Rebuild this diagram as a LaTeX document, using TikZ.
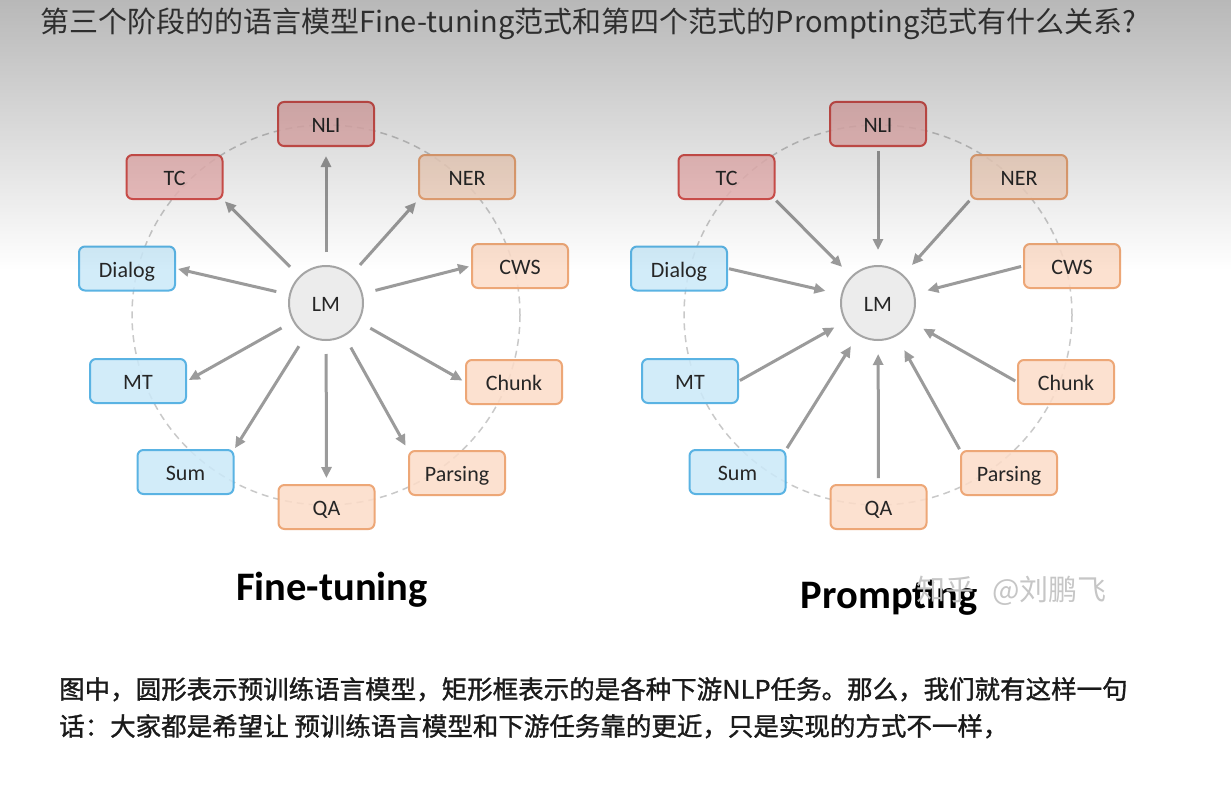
\documentclass[tikz,border=0pt]{standalone}
\usepackage{fontspec}
\setmainfont{Carlito}
\newfontfamily\cjk{Noto Sans CJK SC}
\newfontfamily\cjkb[FakeBold=1.2]{Noto Sans CJK SC}
\usetikzlibrary{arrows.meta,fadings}
\tikzfading[name=fadedown, top color=transparent!0, bottom color=transparent!100]
\definecolor{redfill}{HTML}{F5BDBD}
\definecolor{redline}{HTML}{D9534F}
\definecolor{peachfill}{HTML}{FCDCC8}
\definecolor{peachline}{HTML}{EDA777}
\definecolor{bluefill}{HTML}{CBE9F9}
\definecolor{blueline}{HTML}{5AB3E3}
\definecolor{lmfill}{HTML}{ECECEC}
\definecolor{lmline}{HTML}{A5A5A5}
\definecolor{arrowgray}{HTML}{9B9B9B}
\definecolor{dashgray}{HTML}{C9C9C9}
\definecolor{titlegray}{HTML}{2E2E2E}
\definecolor{bodytext}{HTML}{1A1A1A}
\definecolor{wmgray}{HTML}{C6C6C6}
\begin{document}
\begin{tikzpicture}[x=1pt,y=-1pt,
  task/.style={draw, line width=2pt, rounded corners=6pt, minimum width=96pt,
    minimum height=44pt, inner sep=0pt, text height=17.6pt, text depth=0pt,
    font=\fontsize{22}{22}\selectfont, text=black!85, fill opacity=0.85, text opacity=1},
  redbox/.style={task, fill=redfill, draw=redline},
  peachbox/.style={task, fill=peachfill, draw=peachline},
  bluebox/.style={task, fill=bluefill, draw=blueline},
  lmnode/.style={circle, minimum size=74pt, inner sep=0pt, draw=lmline, line width=2pt,
    fill=lmfill, text height=17.6pt, text depth=0pt, font=\fontsize{22}{22}\selectfont, text=black!85},
  arr/.style={draw=arrowgray, line width=3pt, -{Triangle[length=11pt,width=10pt]}},
  ring/.style={draw=dashgray, line width=1.5pt, dash pattern=on 7pt off 5pt},
  bigcap/.style={anchor=base west, inner sep=0pt, font=\bfseries\fontsize{40.5}{41}\selectfont, text=black}
]
\useasboundingbox (0,0) rectangle (1231,789);
\fill[white] (0,0) rectangle (1231,789);

% ---------- Fine-tuning ----------
\draw[ring] (326,315) ellipse [x radius=194, y radius=190];
\node[lmnode] (lm1) at (326,303) {LM};
\node[redbox] (nli1) at (326,124) {NLI};
\node[redbox] (tc1) at (174.5,177) {TC};
\node[peachbox] (ner1) at (467,177) {NER};
\node[bluebox] (dialog1) at (127,268.5) {Dialog};
\node[peachbox] (cws1) at (520,266) {CWS};
\node[bluebox] (mt1) at (138,381) {MT};
\node[peachbox] (chunk1) at (514,382) {Chunk};
\node[bluebox] (sum1) at (185.5,472) {Sum};
\node[peachbox] (parsing1) at (457,473) {Parsing};
\node[peachbox] (qa1) at (326.5,507) {QA};

\draw[arr, shorten <=13pt, shorten >=9pt] (lm1) -- (nli1);
\draw[arr, shorten <=13pt, shorten >=3pt] (lm1) -- (ner1.south west);
\draw[arr, shorten <=13pt, shorten >=2pt] (lm1) -- (cws1.west);
\draw[arr, shorten <=13pt, shorten >=3pt] (lm1) -- (chunk1.west);
\draw[arr, shorten <=13pt, shorten >=5pt] (lm1) -- (parsing1.north west);
\draw[arr, shorten <=13pt, shorten >=6pt] (lm1) -- (qa1.north);
\draw[arr, shorten <=13pt, shorten >=1pt] (lm1) -- (sum1.north east);
\draw[arr, shorten <=13pt, shorten >=2pt] (lm1) -- (mt1.east);
\draw[arr, shorten <=13pt, shorten >=2pt] (lm1) -- (dialog1.east);
\draw[arr, shorten <=13pt, shorten >=2pt] (lm1) -- (tc1.south east);

% ---------- Prompting ----------
\draw[ring] (878,315) ellipse [x radius=194, y radius=190];
\node[lmnode] (lm2) at (878,303) {LM};
\node[redbox] (nli2) at (878,124) {NLI};
\node[redbox] (tc2) at (726.5,177) {TC};
\node[peachbox] (ner2) at (1019,177) {NER};
\node[bluebox] (dialog2) at (679,268.5) {Dialog};
\node[peachbox] (cws2) at (1072,266) {CWS};
\node[bluebox] (mt2) at (690,381) {MT};
\node[peachbox] (chunk2) at (1066,382) {Chunk};
\node[bluebox] (sum2) at (737.5,472) {Sum};
\node[peachbox] (parsing2) at (1009,473) {Parsing};
\node[peachbox] (qa2) at (878.5,507) {QA};

\draw[arr, shorten <=4pt, shorten >=15pt] (nli2) -- (lm2);
\draw[arr, shorten <=1pt, shorten >=13pt] (ner2.south west) -- (lm2);
\draw[arr, shorten <=2pt, shorten >=13pt] (cws2.west) -- (lm2);
\draw[arr, shorten <=2pt, shorten >=14pt] (chunk2.west) -- (lm2);
\draw[arr, shorten <=1pt, shorten >=16pt] (parsing2.north west) -- (lm2);
\draw[arr, shorten <=6pt, shorten >=13pt] (qa2.north) -- (lm2);
\draw[arr, shorten <=1pt, shorten >=13pt] (sum2.north east) -- (lm2);
\draw[arr, shorten <=1pt, shorten >=12pt] (mt2.east) -- (lm2);
\draw[arr, shorten <=1pt, shorten >=16pt] (dialog2.east) -- (lm2);
\draw[arr, shorten <=1pt, shorten >=13pt] (tc2.south east) -- (lm2);

% captions
\node[bigcap] (ftcap) at (236,600.7) {Fine-tuning};
\node[bigcap] (prcap) at (800.7,608.3) {Prompting};
\node[anchor=base west, inner sep=0pt, font=\cjk\fontsize{29}{29}\selectfont, text=wmgray]
  (wm) at (916,600.6) {知乎\hspace{18pt}@刘鹏飞};

% top grey shade
\fill[black, fill opacity=0.28, path fading=fadedown] (0,0) rectangle (1231,270);

% title
\node[anchor=base west, inner sep=0pt, font=\cjk\fontsize{29}{30}\selectfont, text=titlegray]
  (title) at (40,33) {第三个阶段的的语言模型Fine-tuning范式和第四个范式的Prompting范式有什么关系?};

% body text
\node[anchor=base west, inner sep=0pt, font=\cjkb\fontsize{25.5}{26}\selectfont, text=bodytext]
  (line1) at (59,698.7) {图中，圆形表示预训练语言模型，矩形框表示的是各种下游NLP任务。那么，我们就有这样一句};
\node[anchor=base west, inner sep=0pt, font=\cjkb\fontsize{25.5}{26}\selectfont, text=bodytext]
  (line2) at (59,735.7) {话：大家都是希望让 预训练语言模型和下游任务靠的更近，只是实现的方式不一样，};
\end{tikzpicture}
\end{document}
